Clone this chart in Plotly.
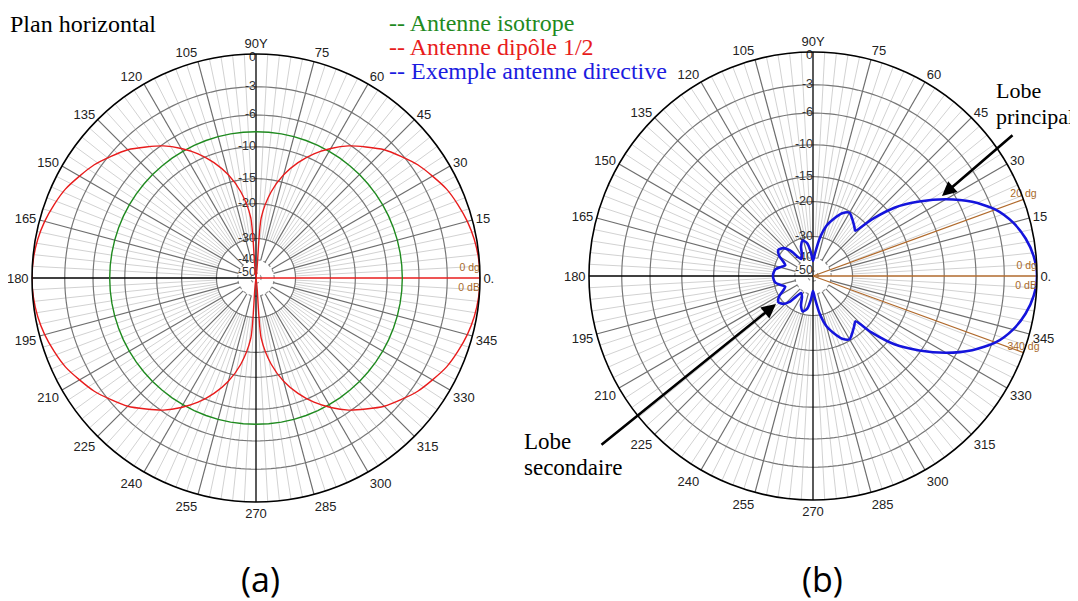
import math
import numpy as np
import plotly.graph_objects as go

# ---------------- data ----------------
DIPOLE_THETA = list(range(0, 360, 5))
DIPOLE_DB = [0, -0.05, -0.2, -0.45, -0.8, -1.2, -1.8, -2.4, -3.2, -4.0, -5.1, -6.2, -7.6, -9.2, -11.2, -13.7, -17.2, -23.3,
             -60, -23.3, -17.2, -13.7, -11.2, -9.2, -7.6, -6.2, -5.1, -4.0, -3.2, -2.4, -1.8, -1.2, -0.8, -0.45, -0.2, -0.05,
             0, -0.05, -0.2, -0.45, -0.8, -1.2, -1.8, -2.4, -3.2, -4.0, -5.1, -6.2, -7.6, -9.2, -11.2, -13.7, -17.2, -23.3,
             -60, -23.3, -17.2, -13.7, -11.2, -9.2, -7.6, -6.2, -5.1, -4.0, -3.2, -2.4, -1.8, -1.2, -0.8, -0.45, -0.2, -0.05]

ISO_THETA = list(range(0, 361, 5))
ISO_LEVEL_DB = -8.0

DIR_THETA = [0, 5, 10, 15, 20, 25, 30, 35, 40, 44, 47, 50, 55, 60, 65, 70, 75, 80, 85, 90, 95, 100, 106, 112, 118, 125,
             132, 137, 143, 149, 154, 159, 164, 170, 175, 180,
             185, 190, 196, 201, 206, 211, 217, 223, 228, 235, 242, 248, 254, 260, 265, 270, 275, 280, 285, 290, 295, 300,
             305, 310, 313, 316, 320, 325, 330, 335, 340, 345, 350, 355]
DIR_DB = [0, -0.2, -0.7, -1.5, -2.7, -4.6, -7.1, -10.2, -13.8, -18.5, -23, -22.4, -21.3, -20.3, -21.2, -23.3, -25.8, -30.5,
          -37.5, -42, -37, -32.5, -31, -33, -37, -38.5, -32, -29.5, -28.6, -30, -32.5, -34, -32.5, -30.5, -30, -29.8,
          -30, -30.5, -32.5, -34, -32.5, -30, -28.6, -29.5, -32, -38.5, -37, -33, -31, -32.5, -37, -42, -37.5, -30.5,
          -25.8, -23.3, -21.2, -20.3, -21.3, -22.4, -23, -18.5, -13.8, -10.2, -7.1, -4.6, -2.7, -1.5, -0.7, -0.2]

GRID_DB = [-3, -6, -10, -15, -20, -30]
CENTER_GRID_DB = [-40, -50]
RADIAL_LABEL_DB = [0, -3, -6, -10, -15, -20, -30, -40, -50]
RADIAL_LABELS = ["0", "-3", "-6", "-10", "-15", "-20", "-30", "-40", "-50"]
ANGLE_TICKS = list(range(0, 360, 15))
ANGLE_TEXT = ["0."] + [str(a) for a in range(15, 360, 15)]
ANGLE_TEXT[6] = "90Y"

CURSORS_A = [0]
CURSORS_B = [0, 20, 340]
CURSOR_TEXT_B = ["0 dg", "20 dg", "340 dg"]

LEGEND_TEXT = ["-- Antenne isotrope", "-- Antenne dipôle 1/2", "-- Exemple antenne directive"]
LEGEND_COLORS = ["#1f8a1f", "#e81c1c", "#1c1ce0"]

# page is offset by the default 8px body margin
OFF = 8
W, H = 1078 - OFF, 601 - OFF


def to_r(db):
    """log-type dB scale used by the plotting tool (0 dB = outer ring)."""
    return max((math.exp(0.049 * db) - 0.065) / 0.935, 0.0)


def px(x):
    return (x - OFF) / W


def py(y):
    return 1 - (y - OFF) / H


fig = go.Figure()


def add_grid(sub):
    # light spokes every 3 degrees
    th, rr = [], []
    for a in range(0, 360, 3):
        if a % 15:
            th += [a, a, None]
            rr += [to_r(-30), 1, None]
    fig.add_trace(go.Scatterpolar(theta=th, r=rr, mode="lines", line=dict(color="#d2d2d2", width=1),
                                  subplot=sub, hoverinfo="skip", showlegend=False, cliponaxis=False))
    circ = np.linspace(0, 360, 241)
    for db in GRID_DB:
        fig.add_trace(go.Scatterpolar(theta=circ, r=[to_r(db)] * len(circ), mode="lines",
                                      line=dict(color="#777777", width=1.2), subplot=sub,
                                      hoverinfo="skip", showlegend=False))
    for db in CENTER_GRID_DB:
        fig.add_trace(go.Scatterpolar(theta=circ, r=[to_r(db)] * len(circ), mode="lines",
                                      line=dict(color="#8a8a8a", width=1.1, dash="dot"), subplot=sub,
                                      hoverinfo="skip", showlegend=False))
    # dark spokes every 15 degrees
    th, rr = [], []
    for a in range(15, 360, 15):
        if a % 90:
            th += [a, a, None]
            rr += [to_r(-40), 1, None]
    fig.add_trace(go.Scatterpolar(theta=th, r=rr, mode="lines", line=dict(color="#6e6e6e", width=1.2),
                                  subplot=sub, hoverinfo="skip", showlegend=False, cliponaxis=False))
    # main axes
    fig.add_trace(go.Scatterpolar(theta=[90, 90, 270], r=[1, 0, 1], mode="lines",
                                  line=dict(color="black", width=1.3), subplot=sub,
                                  hoverinfo="skip", showlegend=False, cliponaxis=False))
    fig.add_trace(go.Scatterpolar(theta=[180, 180], r=[1, 0], mode="lines",
                                  line=dict(color="black", width=1.3), subplot=sub,
                                  hoverinfo="skip", showlegend=False, cliponaxis=False))
    # radial labels (the outer "0" sits just under the ring)
    label_r = [to_r(d) for d in RADIAL_LABEL_DB]
    label_r[0] = 0.985
    fig.add_trace(go.Scatterpolar(theta=[90] * len(RADIAL_LABEL_DB), r=label_r,
                                  mode="text", text=RADIAL_LABELS, textposition="middle left",
                                  textfont=dict(family="Liberation Sans", size=12.5, color="#333333"),
                                  subplot=sub, hoverinfo="skip", showlegend=False, cliponaxis=False))


# ---------------- (a) ----------------
add_grid("polar")
for c in CURSORS_A:
    fig.add_trace(go.Scatterpolar(theta=[c, c], r=[0, 1], mode="lines", line=dict(color="#e81c1c", width=1.3),
                                  subplot="polar", hoverinfo="skip", showlegend=False, cliponaxis=False))
fig.add_trace(go.Scatterpolar(theta=ISO_THETA, r=[to_r(ISO_LEVEL_DB)] * len(ISO_THETA), mode="lines",
                              line=dict(color="#1f8a1f", width=1.4), subplot="polar",
                              name="Antenne isotrope", showlegend=False))
fig.add_trace(go.Scatterpolar(theta=DIPOLE_THETA + [360], r=[to_r(d) for d in DIPOLE_DB] + [to_r(DIPOLE_DB[0])],
                              mode="lines", line=dict(color="#e81c1c", width=1.4, shape="spline", smoothing=0.8),
                              subplot="polar", name="Antenne dipôle 1/2", showlegend=False, cliponaxis=False))
fig.add_trace(go.Scatterpolar(theta=[1.2, -1.2], r=[1, 1], mode="text", text=["0 dg", "0 dB"],
                              textposition=["top left", "bottom left"],
                              textfont=dict(family="Liberation Sans", size=10.5, color="#a86a2a"),
                              subplot="polar", hoverinfo="skip", showlegend=False, cliponaxis=False))

# ---------------- (b) ----------------
add_grid("polar2")
for c in CURSORS_B:
    fig.add_trace(go.Scatterpolar(theta=[c, c], r=[0, 1], mode="lines", line=dict(color="#b06a2c", width=1.3),
                                  subplot="polar2", hoverinfo="skip", showlegend=False, cliponaxis=False))
fig.add_trace(go.Scatterpolar(theta=DIR_THETA + [360], r=[to_r(d) for d in DIR_DB] + [to_r(DIR_DB[0])],
                              mode="lines", line=dict(color="#1414dc", width=2.6, shape="spline", smoothing=0.7),
                              subplot="polar2", name="Exemple antenne directive", showlegend=False,
                              cliponaxis=False))
fig.add_trace(go.Scatterpolar(theta=[1.2, -1.2, 20, 340], r=[1, 1, 1, 1.0], mode="text",
                              text=["0 dg", "0 dB", CURSOR_TEXT_B[1], CURSOR_TEXT_B[2]],
                              textposition=["top left", "bottom left", "top center", "top center"],
                              textfont=dict(family="Liberation Sans", size=10.5, color="#a86a2a"),
                              subplot="polar2", hoverinfo="skip", showlegend=False, cliponaxis=False))

polar_common = dict(
    bgcolor="white",
    radialaxis=dict(range=[0, 1], visible=False, showgrid=False),
    angularaxis=dict(rotation=0, direction="counterclockwise", tickmode="array", tickvals=ANGLE_TICKS,
                     ticktext=ANGLE_TEXT, showgrid=False, showline=True, linecolor="black", linewidth=1.6,
                     ticks="", tickfont=dict(family="Liberation Sans", size=13, color="#222222")),
)

R = 224
ca = (256, 278)
cb = (813, 276)
fig.update_layout(
    width=W, height=H,
    margin=dict(l=0, r=0, t=0, b=0),
    paper_bgcolor="white",
    showlegend=False,
    polar=dict(domain=dict(x=[px(ca[0] - R), px(ca[0] + R)], y=[py(ca[1] + R), py(ca[1] - R)]), **polar_common),
    polar2=dict(domain=dict(x=[px(cb[0] - R), px(cb[0] + R)], y=[py(cb[1] + R), py(cb[1] - R)]), **polar_common),
)

serif = "Liberation Serif"
ann = [
    dict(x=px(8), y=py(24), text="Plan horizontal", xanchor="left", yanchor="middle",
         font=dict(family=serif, size=24, color="black")),
    dict(x=px(994), y=py(91), text="Lobe", xanchor="left", yanchor="middle",
         font=dict(family=serif, size=22, color="black")),
    dict(x=px(994), y=py(116), text="principal", xanchor="left", yanchor="middle",
         font=dict(family=serif, size=22, color="black")),
    dict(x=px(522), y=py(441), text="Lobe", xanchor="left", yanchor="middle",
         font=dict(family=serif, size=23, color="black")),
    dict(x=px(522), y=py(467), text="secondaire", xanchor="left", yanchor="middle",
         font=dict(family=serif, size=23, color="black")),
    dict(x=px(260), y=py(579), text="(a)", xanchor="center", yanchor="middle",
         font=dict(family="Open Sans", size=34, color="black")),
    dict(x=px(822), y=py(579), text="(b)", xanchor="center", yanchor="middle",
         font=dict(family="Open Sans", size=34, color="black")),
]
for i, (t, c) in enumerate(zip(LEGEND_TEXT, LEGEND_COLORS)):
    ann.append(dict(x=px(387), y=py(23 + 24 * i), text=t, xanchor="left", yanchor="middle",
                    font=dict(family=serif, size=24, color=c)))
for a in ann:
    a.update(xref="paper", yref="paper", showarrow=False)

# arrows
ann.append(dict(x=px(942), y=py(196), ax=72, ay=-62, xref="paper", yref="paper", showarrow=True,
                arrowhead=2, arrowsize=1.1, arrowwidth=2.6, arrowcolor="black", text=""))
ann.append(dict(x=px(776), y=py(304), ax=-176, ay=142, xref="paper", yref="paper", showarrow=True,
                arrowhead=2, arrowsize=1.1, arrowwidth=2.6, arrowcolor="black", text=""))
fig.update_layout(annotations=ann)

fig.write_html("out.html")
